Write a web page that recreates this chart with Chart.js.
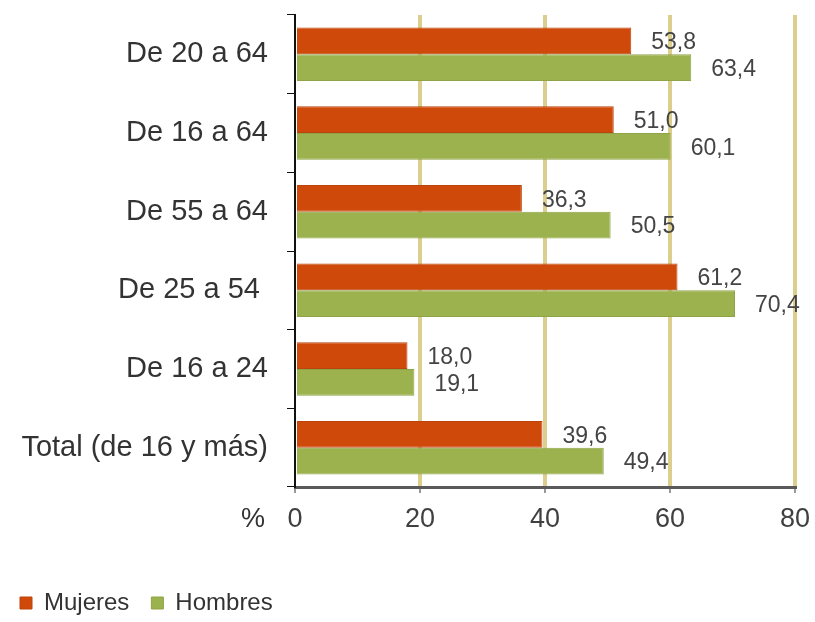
<!DOCTYPE html>
<html>
<head>
<meta charset="utf-8">
<script src="https://cdn.jsdelivr.net/npm/chart.js@4"></script>
<style>
  html, body { margin: 0; padding: 0; background: #fff; }
  #wrap { width: 815px; height: 622px; }
</style>
</head>
<body>
<div id="wrap"><canvas id="chart" width="815" height="622"></canvas></div>
<script>
// datos del gráfico
const categorias = ['De 20 a 64', 'De 16 a 64', 'De 55 a 64', 'De 25 a 54 ', 'De 16 a 24', 'Total (de 16 y más)'];
const mujeres = [53.8, 51.0, 36.3, 61.2, 18.0, 39.6];
const hombres = [63.4, 60.1, 50.5, 70.4, 19.1, 49.4];
const ticksX = [0, 20, 40, 60, 80];

const FONT = "'Liberation Sans', Arial, sans-serif";

// etiquetas de valor al final de cada barra, con coma decimal
const etiquetas = {
    id: 'etiquetas',
    afterDatasetsDraw(chart) {
        const ctx = chart.ctx;
        ctx.save();
        ctx.font = '23px ' + FONT;
        ctx.fillStyle = '#444';
        ctx.textBaseline = 'middle';
        ctx.textAlign = 'left';
        chart.data.datasets.forEach((ds, i) => {
            const meta = chart.getDatasetMeta(i);
            meta.data.forEach((bar, j) => {
                const txt = ds.data[j].toFixed(1).replace('.', ',');
                ctx.fillText(txt, bar.x + 20, bar.y + 2);
            });
        });
        // símbolo % a la izquierda del 0
        const x = chart.scales.x;
        ctx.font = '27px ' + FONT;
        ctx.fillStyle = '#333';
        ctx.textAlign = 'right';
        ctx.fillText('%', x.getPixelForValue(0) - 30, x.top + 33);
        ctx.restore();
    }
};

new Chart(document.getElementById('chart'), {
    type: 'bar',
    data: {
        labels: categorias,
        datasets: [
            {
                label: 'Mujeres',
                data: mujeres,
                backgroundColor: '#cf4a0a',
                borderColor: '#bb440c',
                borderWidth: 1,
                categoryPercentage: 0.68,
                barPercentage: 1.0
            },
            {
                label: 'Hombres',
                data: hombres,
                backgroundColor: '#9cb24e',
                borderColor: '#8fa446',
                borderWidth: 1,
                categoryPercentage: 0.68,
                barPercentage: 1.0
            }
        ]
    },
    options: {
        indexAxis: 'y',
        responsive: false,
        animation: false,
        layout: { padding: { left: -2, right: 20, top: 15, bottom: -3 } },
        scales: {
            x: {
                min: 0,
                max: 80,
                afterBuildTicks: s => { s.ticks = ticksX.map(v => ({ value: v })); },
                afterFit: s => { s.height = 82; s.paddingLeft = 0; s.paddingRight = 0; },
                grid: {
                    color: c => c.tick && c.tick.value === 0 ? 'rgba(0,0,0,0)' : '#dccf8e',
                    lineWidth: 4,
                    tickColor: '#333',
                    tickWidth: 1,
                    tickLength: 6
                },
                border: { color: '#5a5a5a', width: 3 },
                ticks: {
                    color: '#404040',
                    font: { family: FONT, size: 27 },
                    padding: 10
                }
            },
            y: {
                afterFit: s => { s.width = 297; s.paddingTop = 0; s.paddingBottom = 0; },
                grid: {
                    drawOnChartArea: false,
                    offset: true,
                    color: '#111',
                    tickLength: 8
                },
                border: { color: '#111', width: 2 },
                ticks: {
                    color: '#333',
                    font: { family: FONT, size: 29 },
                    padding: 19
                }
            }
        },
        plugins: {
            legend: {
                position: 'bottom',
                align: 'start',
                labels: {
                    boxWidth: 12,
                    boxHeight: 12,
                    padding: 22,
                    color: '#333',
                    font: { family: FONT, size: 24 }
                }
            },
            tooltip: { enabled: false }
        }
    },
    plugins: [etiquetas]
});
</script>
</body>
</html>
